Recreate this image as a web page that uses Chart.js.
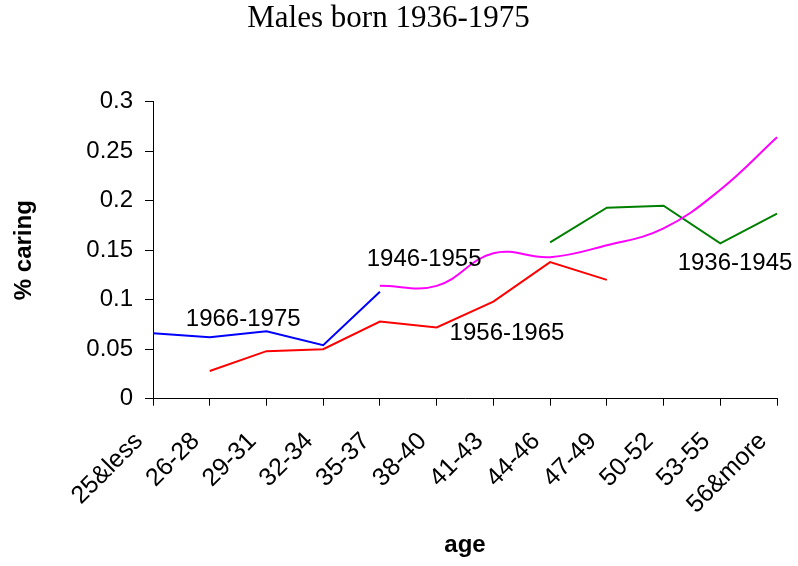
<!DOCTYPE html>
<html><head><meta charset="utf-8">
<script src="https://cdn.jsdelivr.net/npm/chart.js@4/dist/chart.umd.min.js"></script>
<style>html,body{margin:0;padding:0;background:#fff}#wrap{width:798px;height:566px;position:relative}</style>
</head><body><div id="wrap"><canvas id="c" width="798" height="566"></canvas></div>
<script>
// ---- data ----
const categories = ['25&less','26-28','29-31','32-34','35-37','38-40','41-43','44-46','47-49','50-52','53-55','56&more'];
const born1966_1975 = [0.066, 0.062, 0.068, 0.054, 0.108, null, null, null, null, null, null, null];
const born1956_1965 = [null, 0.028, 0.048, 0.050, 0.078, 0.072, 0.098, 0.138, 0.120, null, null, null];
const born1946_1955 = [null, null, null, null, 0.114, 0.114, 0.147, 0.143, 0.155, 0.172, 0.211, 0.264];
const born1936_1945 = [null, null, null, null, null, null, null, 0.158, 0.193, 0.195, 0.157, 0.187];
const seriesNames = ['1966-1975', '1956-1965', '1946-1955', '1936-1945'];
const yTickLabels = ['0', '0.05', '0.1', '0.15', '0.2', '0.25', '0.3'];
const chartTitle = 'Males born 1936-1975';
const xTitle = 'age';
const yTitle = '% caring';

// ---- annotation placement (category index, value) ----
const labelAnchorCat = [1.59, 6.24, 4.78, 10.26];
const labelAnchorVal = [0.0823, 0.0684, 0.143, 0.139];

const SANS = '"Liberation Sans", Arial, sans-serif';
const SERIF = '"Liberation Serif", "Times New Roman", serif';
const colors = ['#0000FF', '#FF0000', '#FF00FF', '#008000'];

const seriesLabelPlugin = {
  id: 'seriesLabels',
  afterDatasetsDraw(chart) {
    const ctx = chart.ctx;
    const xs = chart.scales.x, ys = chart.scales.y;
    ctx.save();
    ctx.font = '24px ' + SANS;
    ctx.fillStyle = '#000';
    ctx.textAlign = 'center';
    ctx.textBaseline = 'alphabetic';
    seriesNames.forEach((name, i) => {
      const x = xs.getPixelForValue(labelAnchorCat[i]);
      const y = ys.getPixelForValue(labelAnchorVal[i]);
      ctx.fillText(name, x, y + 8.6);
    });
    ctx.restore();
  }
};

const mk = (label, data, color, tension) => ({
  label, data, borderColor: color, backgroundColor: color, borderWidth: 2,
  pointRadius: 0, pointHoverRadius: 0, fill: false, spanGaps: false, tension
});

new Chart(document.getElementById('c'), {
  type: 'line',
  data: {
    labels: categories,
    datasets: [
      mk(seriesNames[0], born1966_1975, colors[0], 0),
      mk(seriesNames[1], born1956_1965, colors[1], 0),
      mk(seriesNames[2], born1946_1955, colors[2], 0.4),
      mk(seriesNames[3], born1936_1945, colors[3], 0)
    ]
  },
  options: {
    responsive: false,
    animation: false,
    devicePixelRatio: 1,
    layout: { padding: { top: 0, right: 21, bottom: 0, left: 0 } },
    plugins: {
      legend: { display: false },
      tooltip: { enabled: false },
      title: {
        display: true, text: chartTitle, color: '#000',
        font: { family: SERIF, size: 31, weight: 'normal', lineHeight: 1.2 },
        padding: { top: 0, bottom: 64.5 }
      }
    },
    scales: {
      x: {
        offset: false,
        grid: { offset: false, drawOnChartArea: false, drawTicks: true, tickLength: 7, tickColor: '#000', color: '#000' },
        border: { display: true, color: '#000', width: 1 },
        ticks: { color: '#000', font: { family: SANS, size: 25 }, minRotation: 45, maxRotation: 45, autoSkip: false, padding: 21, labelOffset: -14 },
        title: { display: true, text: xTitle, color: '#000', font: { family: SANS, size: 24, weight: 'bold' }, padding: { top: 0, bottom: 6 } },
        afterFit(s) { s.height = 167.3; s.paddingLeft = 0; s.paddingRight = 0; }
      },
      y: {
        min: 0, max: 0.3,
        grid: { drawOnChartArea: false, drawTicks: true, tickLength: 8, tickColor: '#000', color: '#000' },
        border: { display: true, color: '#000', width: 1 },
        ticks: { stepSize: 0.05, color: '#000', font: { family: SANS, size: 24 }, padding: 12,
                 callback: (v, i) => yTickLabels[i] },
        title: { display: true, text: yTitle, color: '#000', font: { family: SANS, size: 24, weight: 'bold' }, padding: { top: 10, bottom: 0 } },
        afterFit(s) { s.width = 153; }
      }
    }
  },
  plugins: [seriesLabelPlugin]
});
</script>
</body></html>
